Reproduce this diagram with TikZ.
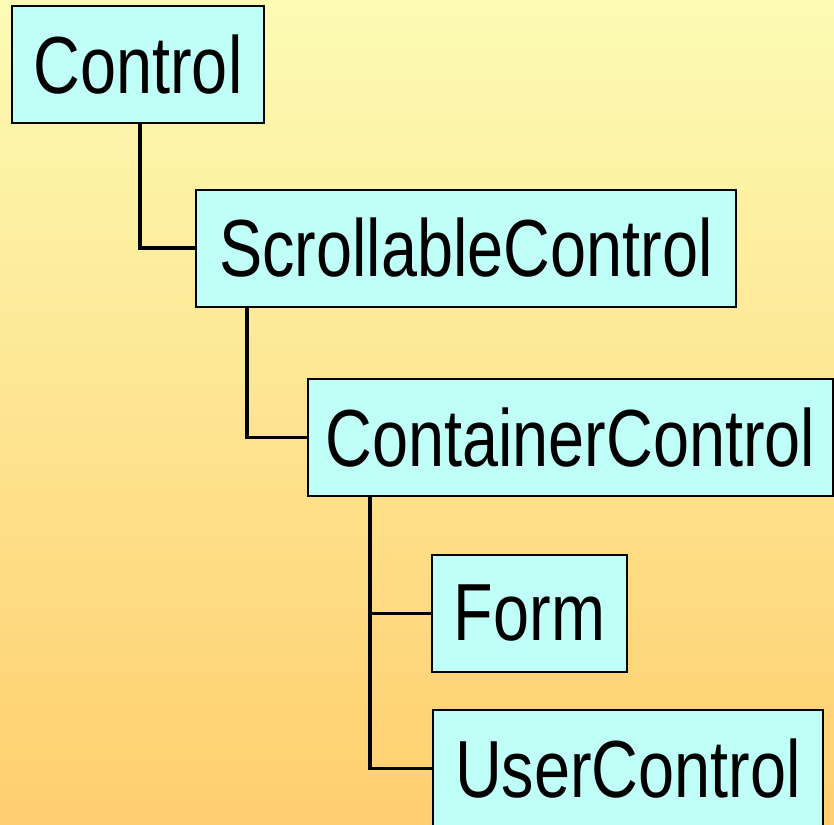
\documentclass[tikz,border=0pt]{standalone}
\usepackage{fontspec}
\setmainfont{Liberation Sans}[FakeStretch=0.8]
\definecolor{boxfill}{RGB}{192,255,248}
\definecolor{bgtop}{RGB}{252,251,180}
\definecolor{bgbottom}{RGB}{255,206,110}
\begin{document}
\begin{tikzpicture}[x=1pt,y=-1pt,
  classbox/.style={draw=black, line width=2pt, fill=boxfill, inner sep=0pt,
    font=\fontsize{81}{90}\selectfont},
  link/.style={draw=black, line width=3.5pt}]
  \clip (0,0) rectangle (834,824);
  \shade[top color=bgtop, bottom color=bgbottom] (0,0) rectangle (834,824);

  % class hierarchy boxes
  \node[classbox, minimum width=252pt, minimum height=117pt] (control) at (138,64.5) {Control};
  \node[classbox, minimum width=540pt, minimum height=117pt] (scroll) at (466,248) {ScrollableControl};
  \node[classbox, minimum width=525pt, minimum height=117pt] (container) at (570.5,437.5) {ContainerControl};
  \node[classbox, minimum width=195pt, minimum height=117pt] (form) at (529.5,613.5) {Form};
  \node[classbox, minimum width=390pt, minimum height=117pt] (user) at (628,768.5) {UserControl};

  % elbow connectors from parent to child
  \draw[link] (control.south -| 140,0) |- (scroll.west);
  \draw[link] (scroll.south -| 247,0) |- (container.west);
  \draw[link] (container.south -| 370,0) |- (form.west);
  \draw[link] (container.south -| 370,0) |- (user.west);
\end{tikzpicture}
\end{document}
